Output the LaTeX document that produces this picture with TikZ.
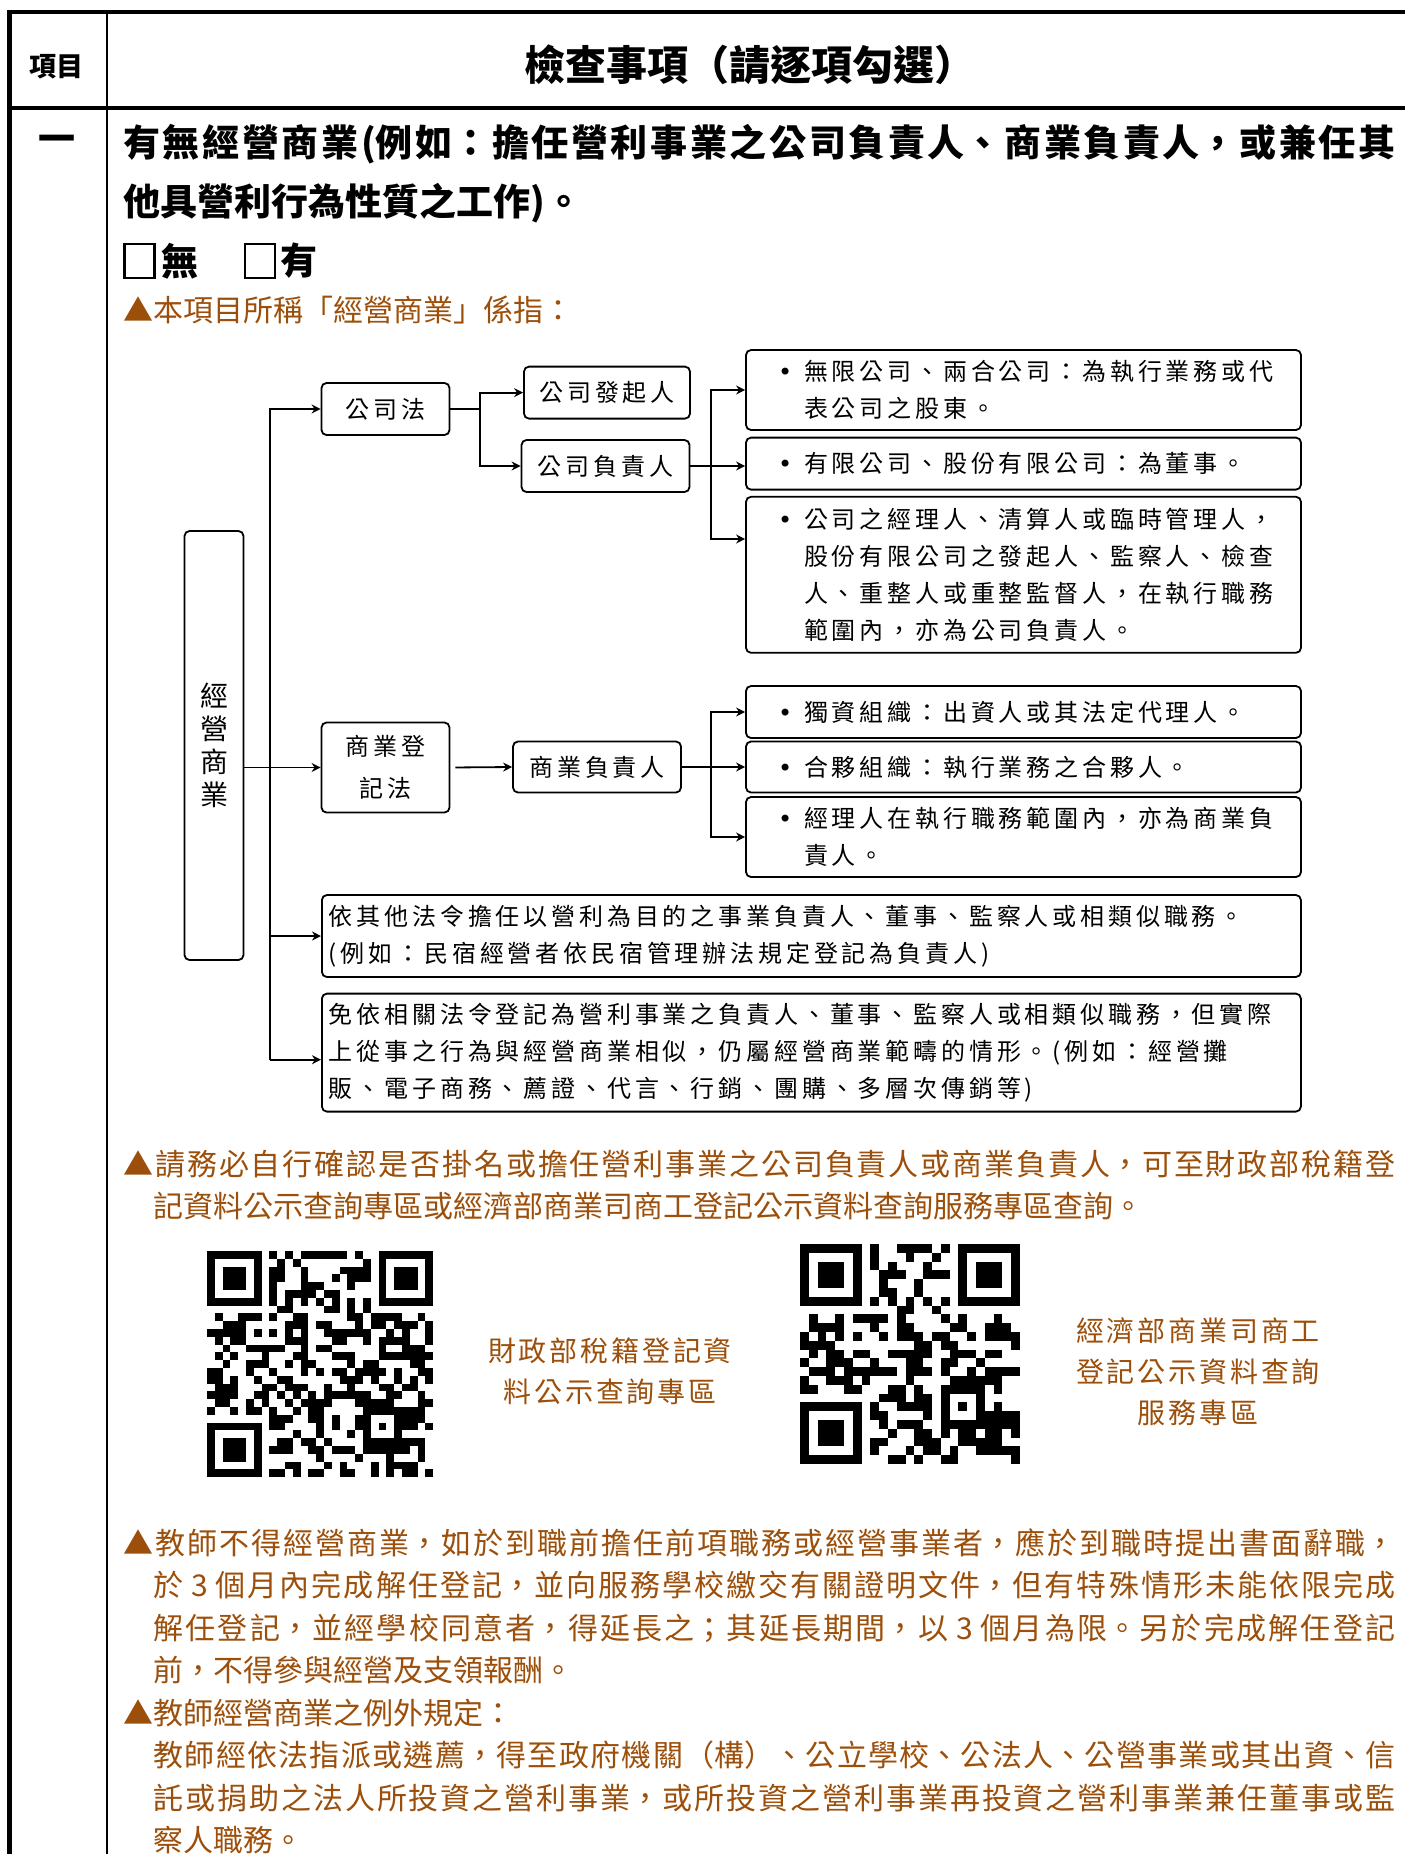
\documentclass[tikz,border=0pt]{standalone}
\usepackage{fontspec}
\setmainfont{Noto Sans CJK TC}
\newfontfamily\diagfont{Noto Sans CJK TC}[LetterSpace=16]
\newfontfamily\labelfont{Noto Sans CJK TC}[LetterSpace=10]
\newfontfamily\bulletfont{DejaVu Sans}
\usetikzlibrary{arrows.meta, calc, positioning}
\definecolor{notebrown}{RGB}{156,79,10}
\XeTeXlinebreaklocale "zh"
\XeTeXlinebreakskip=0pt plus 3pt minus 0.3pt
\newcommand{\diagspacing}{\XeTeXlinebreakskip=1.92pt\relax}
\newcommand{\dutyitem}{\hspace*{10pt}\makebox[13pt][l]{\bulletfont •}}
\newcommand{\dutynext}{\hspace*{23pt}}
% pseudo QR block: x, y, modules, module size, seed
\newcommand{\qrblock}[5]{%
  \pgfmathsetseed{#5}%
  \pgfmathtruncatemacro{\qrlast}{#3-1}%
  \foreach \qrrow in {0,...,\qrlast}{
    \foreach \qrcol in {0,...,\qrlast}{
      \pgfmathtruncatemacro{\qrres}{((\qrrow<8)&&(\qrcol<8)) || ((\qrrow<8)&&(\qrcol>#3-9)) || ((\qrrow>#3-9)&&(\qrcol<8)) || ((\qrrow>#3-10)&&(\qrrow<#3-4)&&(\qrcol>#3-10)&&(\qrcol<#3-4))}
      \ifnum\qrres=0
        \pgfmathtruncatemacro{\qrtime}{(\qrrow==6)||(\qrcol==6)}
        \ifnum\qrtime=1
          \pgfmathtruncatemacro{\qrbit}{1-mod(\qrrow+\qrcol,2)}
        \else
          \pgfmathrandominteger{\qrbit}{0}{1}
        \fi
        \ifnum\qrbit=1
          \fill ({#1+\qrcol*#4}, {#2+\qrrow*#4}) rectangle ++(#4,#4);
        \fi
      \fi
    }
  }
  \foreach \qrfx/\qrfy in {0/0, #3-7/0, 0/#3-7}{
    \fill ({#1+(\qrfx)*#4}, {#2+(\qrfy)*#4}) rectangle ++({7*#4}, {7*#4});
    \fill[white] ({#1+(\qrfx)*#4+#4}, {#2+(\qrfy)*#4+#4}) rectangle ++({5*#4}, {5*#4});
    \fill ({#1+(\qrfx)*#4+2*#4}, {#2+(\qrfy)*#4+2*#4}) rectangle ++({3*#4}, {3*#4});
  }
  \fill ({#1+(#3-9)*#4}, {#2+(#3-9)*#4}) rectangle ++({5*#4}, {5*#4});
  \fill[white] ({#1+(#3-8)*#4}, {#2+(#3-8)*#4}) rectangle ++({3*#4}, {3*#4});
  \fill ({#1+(#3-7)*#4}, {#2+(#3-7)*#4}) rectangle ++(#4, #4);
}

\begin{document}
\begin{tikzpicture}[x=0.5pt, y=-0.5pt,
    lawbox/.style={draw, rounded corners=2.5pt, line width=0.9pt, font=\diagfont\fontsize{12pt}{18pt}\selectfont, align=center, inner sep=0pt},
    dutybox/.style={draw, rounded corners=2.5pt, line width=0.9pt, font=\diagfont\fontsize{12pt}{18.5pt}\selectfont\diagspacing, align=left, text width=265.5pt, inner xsep=6pt, inner ysep=0pt},
    widebox/.style={draw, rounded corners=2.5pt, line width=0.9pt, font=\diagfont\fontsize{12pt}{18.5pt}\selectfont\diagspacing, align=left, text width=482.5pt, inner xsep=3.5pt, inner ysep=0pt},
    conn/.style={line width=0.9pt, -{Stealth[length=4.5pt,width=4.5pt]}},
    link/.style={line width=0.9pt},
    quest/.style={font=\bfseries\fontsize{18.5pt}{29.5pt}\selectfont, inner sep=0pt},
    note/.style={text=notebrown, font=\fontsize{15pt}{21.25pt}\selectfont, inner sep=0pt},
    qrlabel/.style={text=notebrown, font=\labelfont\fontsize{14pt}{20.5pt}\selectfont, align=center, inner sep=0pt},
    chkbox/.style={draw, line width=1.2pt, minimum width=15pt, minimum height=17pt, inner sep=0pt}]
  \useasboundingbox (0,0) rectangle (1405,1854);

  % table frame
  \draw[line width=2.2pt] (1405,12) -- (9.5,12) -- (9.5,1854);
  \draw[line width=1pt] (106.5,12) -- (106.5,1854);
  \draw[line width=1.6pt] (9.5,108) -- (1405,108);

  \node[font=\bfseries\fontsize{13.5pt}{15pt}\selectfont] (itemhead) at (57,67) {項目};
  \node[font=\bfseries\fontsize{20.5pt}{24pt}\selectfont] (checkhead) at (750,65) {檢查事項（請逐項勾選）};
  \node[quest] (itemone) at (57,144) {一};

  % question and answer boxes
  \node[quest, anchor=west, text width=636pt, align=justify] (question) at (123,173.5) {有無經營商業(例如：擔任營利事業之公司負責人、商業負責人，或兼任其\linebreak 他具營利行為性質之工作)。};
  \node[chkbox] (nobox) at (139.5,261) {};
  \node[quest] (notext) at (180,261) {無};
  \node[chkbox] (yesbox) at (260,261) {};
  \node[quest] (yestext) at (299,261) {有};
  \node[note, anchor=west] (intro) at (123,310) {▲本項目所稱「經營商業」係指：};

  % diagram
  \node[lawbox, font=\diagfont\fontsize{14pt}{16.5pt}\selectfont, minimum width=29.5pt, minimum height=214.5pt] (biz) at (214,745.5) {經\\營\\商\\業};
  \node[lawbox, minimum width=64pt, minimum height=26pt] (colaw) at (385.5,409) {公司法};
  \node[lawbox, minimum width=83pt, minimum height=26pt] (founder) at (607,392.6) {公司發起人};
  \node[lawbox, minimum width=84pt, minimum height=26pt] (corpresp) at (605.5,466) {公司負責人};
  \node[lawbox, font=\diagfont\fontsize{12pt}{21pt}\selectfont, minimum width=64pt, minimum height=45pt] (bizreg) at (385.5,767.5) {商業登\\記法};
  \node[lawbox, minimum width=84pt, minimum height=25.5pt] (bizresp) at (597,767) {商業負責人};

  \node[dutybox, minimum height=40pt] (unltd) at (1023.5,390) {\dutyitem 無限公司、兩合公司：為執行業務或代\\\dutynext 表公司之股東。};
  \node[dutybox, minimum height=26pt] (ltd) at (1023.5,463.6) {\dutyitem 有限公司、股份有限公司：為董事。};
  \node[dutybox, minimum height=78pt] (manager) at (1023.5,574.8) {\dutyitem 公司之經理人、清算人或臨時管理人，\\\dutynext 股份有限公司之發起人、監察人、檢查\\\dutynext 人、重整人或重整監督人，在執行職務\\\dutynext 範圍內，亦為公司負責人。};
  \node[dutybox, minimum height=26pt] (sole) at (1023.5,712) {\dutyitem 獨資組織：出資人或其法定代理人。};
  \node[dutybox, minimum height=25.5pt] (partner) at (1023.5,767) {\dutyitem 合夥組織：執行業務之合夥人。};
  \node[dutybox, minimum height=40pt] (bizmanager) at (1023.5,837) {\dutyitem 經理人在執行職務範圍內，亦為商業負\\\dutynext 責人。};

  \node[widebox, minimum height=41pt] (otherlaw) at (811.4,936) {依其他法令擔任以營利為目的之事業負責人、董事、監察人或相類似職務。\\(例如：民宿經營者依民宿管理辦法規定登記為負責人)};
  \node[widebox, minimum height=59pt] (similar) at (811.4,1052.6) {免依相關法令登記為營利事業之負責人、董事、監察人或相類似職務，但實際\\上從事之行為與經營商業相似，仍屬經營商業範疇的情形。(例如：經營攤\\販、電子商務、薦證、代言、行銷、團購、多層次傳銷等)};

  \coordinate (trunk) at (269.7,1059.7);
  \coordinate (fork1) at (480,409);
  \coordinate (fork2) at (711,466);
  \coordinate (fork3) at (711,767);

  \draw[conn] (trunk) |- (colaw.west);
  \draw[conn] (trunk |- otherlaw.west) -- (otherlaw.west);
  \draw[conn] (trunk) -- (trunk -| similar.west);
  \draw[conn] (biz.east |- bizreg.west) -- (bizreg.west);

  \draw[link] (colaw.east) -- (fork1);
  \draw[conn] (fork1) |- (founder.west);
  \draw[conn] (fork1) |- (corpresp.west);

  \draw[conn] (corpresp.east) -- (corpresp.east -| ltd.west);
  \draw[conn] (fork2) |- (unltd.west);
  \draw[conn] (fork2) |- ([yshift=17.9pt]manager.west);

  \draw[conn, shorten <=2.5pt] (bizreg.east) -- (bizresp.west);
  \draw[conn] (bizresp.east) -- (bizresp.east -| partner.west);
  \draw[conn] (fork3) |- (sole.west);
  \draw[conn] (fork3) |- (bizmanager.west);

  % notes and QR codes
  \node[note, anchor=west, text width=636pt, align=justify] (checknote) at (123,1185) {▲請務必自行確認是否掛名或擔任營利事業之公司負責人或商業負責人，可至財政部稅籍登\linebreak\hspace*{1em}記資料公示查詢專區或經濟部商業司商工登記公示資料查詢服務專區查詢。};

  \qrblock{207}{1251}{29}{7.8}{123}
  \qrblock{800}{1244}{25}{8.8}{457}
  \node[qrlabel] (taxlabel) at (610,1371.5) {財政部稅籍登記資\\料公示查詢專區};
  \node[qrlabel] (moealabel) at (1198,1371.5) {經濟部商業司商工\\登記公示資料查詢\\服務專區};

  \node[note, anchor=west, text width=636pt, align=justify] (rulenote) at (123,1691.5) {▲教師不得經營商業，如於到職前擔任前項職務或經營事業者，應於到職時提出書面辭職，\linebreak\hspace*{1em}於 3 個月內完成解任登記，並向服務學校繳交有關證明文件，但有特殊情形未能依限完成\linebreak\hspace*{1em}解任登記，並經學校同意者，得延長之；其延長期間，以 3 個月為限。另於完成解任登記\linebreak\hspace*{1em}前，不得參與經營及支領報酬。\\▲教師經營商業之例外規定：\\\hspace*{1em}教師經依法指派或遴薦，得至政府機關（構）、公立學校、公法人、公營事業或其出資、信\linebreak\hspace*{1em}託或捐助之法人所投資之營利事業，或所投資之營利事業再投資之營利事業兼任董事或監\linebreak\hspace*{1em}察人職務。};
\end{tikzpicture}
\end{document}
